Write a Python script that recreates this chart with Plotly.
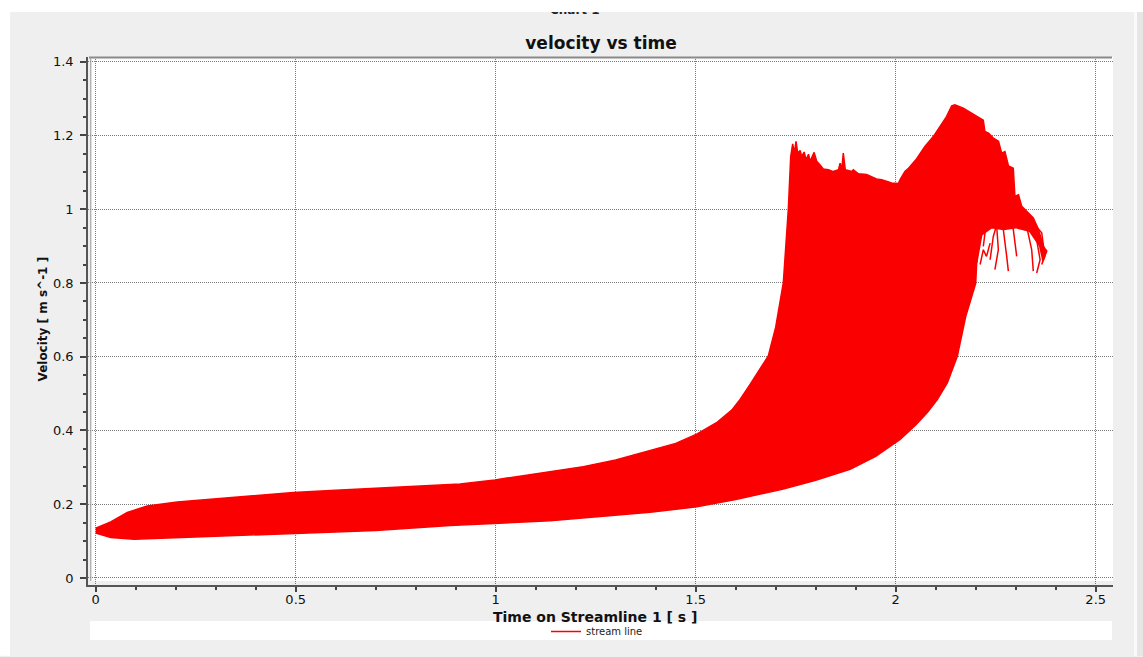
import plotly.graph_objects as go

# ---------------- data ----------------
# upper edge of the streamline bundle (time [s], velocity [m/s])
upper_t = [0.0, 0.0375, 0.079, 0.129, 0.204, 0.30, 0.40, 0.494, 0.60, 0.70, 0.80, 0.911,
           0.998, 1.10, 1.219, 1.30, 1.386, 1.45, 1.5025, 1.552, 1.59, 1.611, 1.636, 1.652,
           1.6815, 1.70, 1.719, 1.7315, 1.7375, 1.7425, 1.7466, 1.7508, 1.755, 1.761, 1.765,
           1.771, 1.776, 1.782, 1.786, 1.796, 1.8025, 1.811, 1.819, 1.832, 1.844, 1.857,
           1.861, 1.865, 1.869, 1.874, 1.890, 1.894, 1.907, 1.927, 1.944, 1.952, 1.965,
           1.977, 1.990, 2.007, 2.011, 2.023, 2.032, 2.052, 2.073, 2.094, 2.111, 2.127,
           2.140, 2.148, 2.169, 2.190, 2.207, 2.219, 2.223, 2.232, 2.244, 2.257, 2.265,
           2.273, 2.282, 2.294, 2.298, 2.307, 2.315, 2.332, 2.344, 2.357, 2.369, 2.3775]
upper_v = [0.135, 0.152, 0.178, 0.195, 0.206, 0.214, 0.223, 0.232, 0.238, 0.244, 0.249, 0.255,
           0.266, 0.283, 0.302, 0.320, 0.345, 0.365, 0.390, 0.421, 0.455, 0.484, 0.525, 0.552,
           0.602, 0.680, 0.800, 0.999, 1.143, 1.177, 1.152, 1.184, 1.152, 1.159, 1.143,
           1.155, 1.134, 1.149, 1.130, 1.154, 1.130, 1.120, 1.109, 1.107, 1.102, 1.107,
           1.125, 1.107, 1.152, 1.107, 1.102, 1.107, 1.096, 1.094, 1.085, 1.082, 1.080,
           1.076, 1.071, 1.070, 1.080, 1.102, 1.111, 1.136, 1.170, 1.197, 1.224, 1.251,
           1.280, 1.283, 1.274, 1.260, 1.247, 1.241, 1.211, 1.206, 1.193, 1.184, 1.152,
           1.156, 1.117, 1.111, 1.035, 1.039, 1.008, 0.990, 0.976, 0.945, 0.900, 0.886]

# lower edge of the bundle, left to right (incl. underside of the curled tail)
lower_t = [0.0, 0.0375, 0.096, 0.1625, 0.30, 0.494, 0.70, 0.886, 1.136, 1.386, 1.5025,
           1.60, 1.719, 1.80, 1.886, 1.95, 2.011, 2.05, 2.08, 2.104, 2.129, 2.154, 2.175,
           2.20, 2.2025, 2.215, 2.24, 2.27, 2.30, 2.335, 2.36, 2.368]
lower_v = [0.122, 0.110, 0.105, 0.107, 0.112, 0.121, 0.129, 0.142, 0.155, 0.178, 0.193,
           0.213, 0.241, 0.265, 0.295, 0.330, 0.376, 0.415, 0.450, 0.484, 0.529, 0.601, 0.709,
           0.799, 0.854, 0.930, 0.950, 0.945, 0.950, 0.940, 0.900, 0.860]

# individual curled streamlines at the end of the bundle
tail_lines_t = [
    [2.2025, 2.2065, 2.219, 2.236, 2.2525, 2.2566, 2.248],
    [2.219, 2.227, 2.2525, 2.269, 2.2775, 2.2816],
    [2.236, 2.244, 2.2566, 2.2775, 2.294, 2.3025],
    [2.3025, 2.3275, 2.340, 2.344],
    [2.319, 2.348, 2.361, 2.3525],
    [2.336, 2.365, 2.373, 2.365, 2.3775],
    [2.211, 2.219, 2.227, 2.236],
]
tail_lines_v = [
    [0.854, 0.936, 0.976, 0.981, 0.953, 0.890, 0.836],
    [0.899, 0.967, 0.976, 0.945, 0.872, 0.832],
    [0.863, 0.926, 0.972, 0.981, 0.945, 0.872],
    [0.981, 0.953, 0.890, 0.832],
    [0.981, 0.945, 0.863, 0.827],
    [0.972, 0.936, 0.872, 0.850, 0.890],
    [0.850, 0.890, 0.872, 0.908],
]

x_tick_vals = [0, 0.5, 1, 1.5, 2, 2.5]
x_tick_text = ["0", "0.5", "1", "1.5", "2", "2.5"]
y_tick_vals = [0, 0.2, 0.4, 0.6, 0.8, 1.0, 1.2, 1.4]
y_tick_text = ["0", "0.2", "0.4", "0.6", "0.8", "1", "1.2", "1.4"]

# ---------------- figure ----------------
RED = "#fa0000"
FONT = "DejaVu Sans"
W, H = 1143, 657
L, R, T, B = 88, 30, 57, 71
PW, PH = W - L - R, H - T - B


def px(xp):
    return (xp - L) / PW


def py(yp):
    return (H - B - yp) / PH


poly_t = upper_t + lower_t[::-1]
poly_v = upper_v + lower_v[::-1]

tail_t, tail_v = [], []
for ts, vs in zip(tail_lines_t, tail_lines_v):
    tail_t += ts + [None]
    tail_v += vs + [None]

fig = go.Figure()
fig.add_trace(go.Scatter(x=poly_t, y=poly_v, mode="lines", fill="toself",
                         fillcolor=RED, line=dict(color=RED, width=1.5),
                         showlegend=False, hoverinfo="skip"))
fig.add_trace(go.Scatter(x=tail_t, y=tail_v, mode="lines", name="stream line",
                         line=dict(color=RED, width=1.5), connectgaps=False))

X0, X1 = -0.01925, 2.54325
Y0, Y1 = -0.019, 1.4127

shapes = [
    # white plot area
    dict(type="rect", xref="x", yref="y", x0=-0.01175, x1=X1, y0=-0.0081, y1=Y1,
         fillcolor="white", line=dict(width=0), layer="below"),
    # top border
    dict(type="line", xref="paper", yref="paper", x0=px(89), x1=px(1112), y0=py(57.5), y1=py(57.5),
         line=dict(color="#8a8a8a", width=2)),
    # second left line
    dict(type="line", xref="paper", yref="paper", x0=px(90.8), x1=px(90.8), y0=py(582), y1=py(57),
         line=dict(color="#9a9a9a", width=1)),
    # legend strip
    dict(type="rect", xref="paper", yref="paper", x0=px(90), x1=px(1112), y0=py(641), y1=py(622),
         fillcolor="white", line=dict(width=0), layer="below"),
    # white page strips
    dict(type="rect", xref="paper", yref="paper", x0=px(0), x1=px(W), y0=py(12), y1=py(0),
         fillcolor="white", line=dict(width=0), layer="below"),
    dict(type="rect", xref="paper", yref="paper", x0=px(0), x1=px(10), y0=py(H), y1=py(0),
         fillcolor="white", line=dict(width=0), layer="below"),
    # right scroll strip
    dict(type="rect", xref="paper", yref="paper", x0=px(1134), x1=px(1137), y0=py(H), y1=py(12),
         fillcolor="#fafafa", line=dict(width=0), layer="below"),
    dict(type="rect", xref="paper", yref="paper", x0=px(1137), x1=px(W), y0=py(H), y1=py(12),
         fillcolor="#e6e6e6", line=dict(width=0), layer="below"),
]

annotations = [
    dict(text="<b>Chart 1</b>", xref="paper", yref="paper", x=px(575), y=py(19),
         xanchor="center", yanchor="bottom", showarrow=False,
         font=dict(family=FONT, size=12, color="#222")),
    # white page edge that clips the top of "Chart 1"
    dict(text=" ", xref="paper", yref="paper", x=px(0), y=py(0), xanchor="left", yanchor="top",
         width=W, height=12, bgcolor="white", borderpad=0, borderwidth=0, showarrow=False),
    dict(text="<b>Time on Streamline 1 [ s ]</b>", xref="paper", yref="paper",
         x=px(595), y=py(618), xanchor="center", yanchor="middle", showarrow=False,
         font=dict(family=FONT, size=14, color="#111")),
    dict(text="<b>Velocity [ m s^-1 ]</b>", xref="paper", yref="paper",
         x=px(43), y=py(320), xanchor="center", yanchor="middle", textangle=-90,
         showarrow=False, font=dict(family=FONT, size=12, color="#111")),
]

fig.update_layout(
    width=W, height=H, autosize=False,
    margin=dict(l=L, r=R, t=T, b=B, pad=0),
    paper_bgcolor="#efefef", plot_bgcolor="#efefef",
    title=dict(text="<b>velocity vs time</b>", x=601 / W, xanchor="center",
               y=1 - 43 / H, yanchor="middle", font=dict(family=FONT, size=17, color="#111")),
    font=dict(family=FONT, size=13, color="#111"),
    showlegend=True,
    legend=dict(orientation="h", x=px(546), y=py(631.5), xanchor="left", yanchor="middle",
                bgcolor="rgba(0,0,0,0)", font=dict(family=FONT, size=10, color="#222"),
                itemwidth=30),
    shapes=shapes,
    annotations=annotations,
)

grid_common = dict(showgrid=True, gridcolor="#7a7a7a", gridwidth=1, griddash="1px,1px",
                   zeroline=False, showline=True, linecolor="#555", linewidth=1.5,
                   ticks="outside", tickcolor="#444", tickwidth=1.5,
                   tickfont=dict(family=FONT, size=13, color="#111"))

fig.update_xaxes(range=[X0, X1], tickmode="array", tickvals=x_tick_vals, ticktext=x_tick_text,
                 ticklen=5, ticklabelstandoff=-3,
                 minor=dict(tick0=0, dtick=0.1, ticks="outside", ticklen=3, tickcolor="#444",
                            showgrid=False),
                 **grid_common)
fig.update_yaxes(range=[Y0, Y1], tickmode="array", tickvals=y_tick_vals, ticktext=y_tick_text,
                 ticklen=6,
                 minor=dict(tick0=0, dtick=0.05, ticks="outside", ticklen=3, tickcolor="#444",
                            showgrid=False),
                 ticklabelstandoff=4, **grid_common)

fig.write_html("out.html")
